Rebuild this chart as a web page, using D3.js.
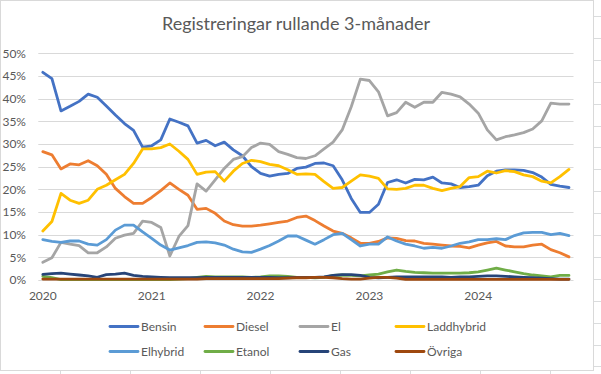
<!DOCTYPE html>
<html>
<head>
<meta charset="utf-8">
<script src="https://cdn.jsdelivr.net/npm/d3@7"></script>
<style>
  html, body { margin: 0; padding: 0; background: #fff; }
  svg { display: block; }
  text { font-family: Lato, "Open Sans", "Liberation Sans", sans-serif; fill: #595959; }
</style>
</head>
<body>
<svg id="chart" width="601" height="374"></svg>
<script>
// ---- DATA ----
const title = "Registreringar rullande 3-månader";
const months = [
  "2020-01","2020-02","2020-03","2020-04","2020-05","2020-06","2020-07","2020-08","2020-09","2020-10","2020-11","2020-12",
  "2021-01","2021-02","2021-03","2021-04","2021-05","2021-06","2021-07","2021-08","2021-09","2021-10","2021-11","2021-12",
  "2022-01","2022-02","2022-03","2022-04","2022-05","2022-06","2022-07","2022-08","2022-09","2022-10","2022-11","2022-12",
  "2023-01","2023-02","2023-03","2023-04","2023-05","2023-06","2023-07","2023-08","2023-09","2023-10","2023-11","2023-12",
  "2024-01","2024-02","2024-03","2024-04","2024-05","2024-06","2024-07","2024-08","2024-09","2024-10","2024-11"
];
const yearTicks = ["2020-01","2021-01","2022-01","2023-01","2024-01"];
const yearLabels = ["2020","2021","2022","2023","2024"];
const yTicks = [0, 5, 10, 15, 20, 25, 30, 35, 40, 45, 50];

const seriesNames = ["Bensin","Diesel","El","Laddhybrid","Elhybrid","Etanol","Gas","Övriga"];
const seriesColors = ["#4472C4","#ED7D31","#A5A5A5","#FFC000","#5B9BD5","#70AD47","#264478","#9E480E"];

const bensin = [45.8,44.4,37.3,38.3,39.4,41.0,40.3,38.4,36.4,34.5,33.0,29.3,29.6,30.9,35.5,34.8,34.0,30.2,30.8,29.6,30.4,28.7,27.4,25.0,23.5,22.9,23.3,23.5,24.6,24.9,25.7,25.8,25.2,22.1,18.0,14.9,14.9,16.7,21.5,22.1,21.4,22.2,22.1,22.7,21.4,21.2,20.4,20.6,20.9,23.0,24.0,24.3,24.3,24.2,23.7,22.7,21.1,20.7,20.4];
const diesel = [28.3,27.6,24.5,25.6,25.4,26.3,25.2,23.3,20.2,18.4,16.9,16.9,18.2,19.7,21.4,20.0,18.7,15.6,15.8,14.7,13.0,12.2,11.9,11.9,12.1,12.4,12.7,13.0,13.8,14.1,13.1,11.9,10.8,10.3,9.3,8.1,8.1,8.5,9.3,9.2,8.7,8.6,8.1,7.9,7.7,7.5,7.4,7.1,7.7,8.2,8.5,7.5,7.3,7.3,7.7,7.9,6.7,6.0,5.1];
const el = [3.9,4.9,8.3,7.9,7.6,6.0,6.0,7.3,9.2,9.9,10.3,13.0,12.7,11.6,5.3,9.6,12.0,21.2,19.6,22.1,24.6,26.6,27.2,29.2,30.2,29.9,28.3,27.7,27.0,26.8,27.4,28.9,30.4,33.1,38.2,44.3,44.0,41.5,36.2,36.9,39.2,38.1,39.2,39.2,41.4,41.0,40.4,38.8,36.8,33.1,30.9,31.6,32.0,32.5,33.3,35.1,39.0,38.8,38.8];
const laddhybrid = [10.8,12.9,19.1,17.6,16.9,17.6,20.0,20.9,22.1,23.3,25.7,28.9,28.9,29.2,30.0,28.4,26.6,23.3,23.8,23.9,21.8,24.0,25.7,26.4,26.1,25.5,25.2,24.3,23.3,23.4,23.3,21.7,20.2,20.4,21.8,23.2,22.9,22.4,20.1,20.0,20.2,20.9,20.9,20.2,19.7,20.2,20.6,22.6,22.8,24.0,23.6,24.1,23.9,23.2,22.8,21.8,21.4,22.8,24.4];
const elhybrid = [8.9,8.5,8.3,8.6,8.6,7.9,7.7,8.9,11.0,12.1,12.1,10.6,9.2,7.7,6.6,7.1,7.6,8.3,8.4,8.2,7.7,6.8,6.2,6.1,6.8,7.6,8.6,9.7,9.7,8.8,7.9,8.9,10.0,10.3,8.9,7.5,7.9,7.9,9.5,8.6,7.9,7.5,7.0,7.2,7.0,7.5,8.1,8.4,8.9,8.9,9.1,8.9,9.8,10.4,10.5,10.5,10.0,10.3,9.8];
const etanol = [0.8,0.5,0.1,0.1,0.1,0.1,0.1,0.1,0.1,0.1,0.1,0.1,0.1,0.1,0.1,0.2,0.3,0.6,0.8,0.7,0.7,0.7,0.7,0.6,0.7,0.9,0.9,0.8,0.6,0.6,0.5,0.6,1.0,1.1,1.0,0.9,1.1,1.3,1.8,2.2,1.9,1.7,1.6,1.5,1.5,1.5,1.5,1.6,1.8,2.2,2.6,2.2,1.8,1.4,1.1,0.9,0.7,1.0,1.0];
const gas = [1.25,1.4,1.5,1.3,1.1,0.9,0.6,1.2,1.3,1.5,1.0,0.8,0.7,0.6,0.5,0.5,0.5,0.5,0.6,0.6,0.6,0.6,0.6,0.6,0.6,0.6,0.5,0.5,0.6,0.6,0.6,0.7,1.0,1.2,1.2,1.0,0.6,0.5,0.6,0.7,0.7,0.7,0.7,0.7,0.7,0.6,0.7,0.7,0.8,0.9,0.9,0.8,0.7,0.6,0.5,0.4,0.3,0.2,0.2];
const ovriga = [0.2,0.2,0.2,0.2,0.2,0.2,0.2,0.2,0.2,0.2,0.2,0.2,0.2,0.2,0.2,0.2,0.2,0.2,0.3,0.3,0.3,0.3,0.3,0.3,0.3,0.3,0.3,0.4,0.5,0.5,0.6,0.6,0.5,0.3,0.2,0.2,0.4,0.6,0.6,0.4,0.15,0.15,0.15,0.15,0.15,0.15,0.15,0.15,0.15,0.15,0.15,0.15,0.15,0.15,0.15,0.15,0.15,0.15,0.15];

const seriesValues = [bensin, diesel, el, laddhybrid, elhybrid, etanol, gas, ovriga];

// ---- LAYOUT ----
const W = 601, H = 374;
const plot = { left: 38.3, right: 573.5, top: 53.3, bottom: 280 };

const svg = d3.select("#chart");

// spreadsheet cell lines outside the chart (background)
const bg = svg.append("g").attr("stroke", "#dadcdd").attr("stroke-width", 1);
d3.range(16, 374, 21.9).forEach(y => bg.append("line").attr("x1", 594).attr("x2", 601).attr("y1", Math.round(y) + 0.5).attr("y2", Math.round(y) + 0.5));
[60.5, 130.5, 200.5, 270.5, 340.5, 410.5, 480.5, 550.5].forEach(x => bg.append("line").attr("x1", x).attr("x2", x).attr("y1", 371).attr("y2", 374));

// chart border
svg.append("rect").attr("x", 0.5).attr("y", 0.5).attr("width", 593).attr("height", 370)
  .attr("fill", "#fff").attr("stroke", "#d9d9d9").attr("stroke-width", 1);

const x = d3.scaleBand().domain(months).range([plot.left, plot.right]);
const xc = m => x(m) + x.bandwidth() / 2;
const y = d3.scaleLinear().domain([0, 50]).range([plot.bottom, plot.top]);

// gridlines
svg.append("g").selectAll("line").data(yTicks).join("line")
  .attr("x1", plot.left).attr("x2", plot.right)
  .attr("y1", d => Math.round(y(d)) + 0.5).attr("y2", d => Math.round(y(d)) + 0.5)
  .attr("stroke", "#d9d9d9").attr("stroke-width", 1);

// y axis labels
const yAxis = d3.axisLeft(y).tickValues(yTicks).tickFormat(d => d + "%").tickSize(0).tickPadding(0);
const gy = svg.append("g").attr("transform", `translate(26,0)`).call(yAxis);
gy.select(".domain").remove();
gy.selectAll("text").style("font-size", "12px").attr("fill", "#595959").style("font-family", null);

// x axis labels
const xAxis = d3.axisBottom(x).tickValues(yearTicks).tickFormat(m => yearLabels[yearTicks.indexOf(m)]).tickSize(0).tickPadding(0);
const gx = svg.append("g").attr("transform", `translate(0,291)`).call(xAxis);
gx.select(".domain").remove();
gx.selectAll("text").style("font-size", "12px").attr("fill", "#595959").style("font-family", null);

// lines
const line = d3.line().x((d, i) => xc(months[i])).y(d => y(d));
const gl = svg.append("g");
seriesValues.forEach((vals, k) => {
  gl.append("path").datum(vals).attr("d", line)
    .attr("fill", "none").attr("stroke", seriesColors[k]).attr("stroke-width", 2.8)
    .attr("stroke-linejoin", "round").attr("stroke-linecap", "round");
});

// title
svg.append("text").attr("x", 296).attr("y", 29.5).attr("text-anchor", "middle")
  .style("font-size", "18px").text(title);

// legend
const legCols = [110, 205, 300, 396];
const legRows = [326.5, 351.5];
const lg = svg.append("g");
seriesNames.forEach((name, k) => {
  const cx = legCols[k % 4], cy = legRows[Math.floor(k / 4)];
  lg.append("line").attr("x1", cx).attr("x2", cx + 28).attr("y1", cy).attr("y2", cy)
    .attr("stroke", seriesColors[k]).attr("stroke-width", 2.8).attr("stroke-linecap", "round");
  lg.append("text").attr("x", cx + 31).attr("y", cy).attr("dy", "0.35em")
    .style("font-size", "12px").text(name);
});
</script>
</body>
</html>
